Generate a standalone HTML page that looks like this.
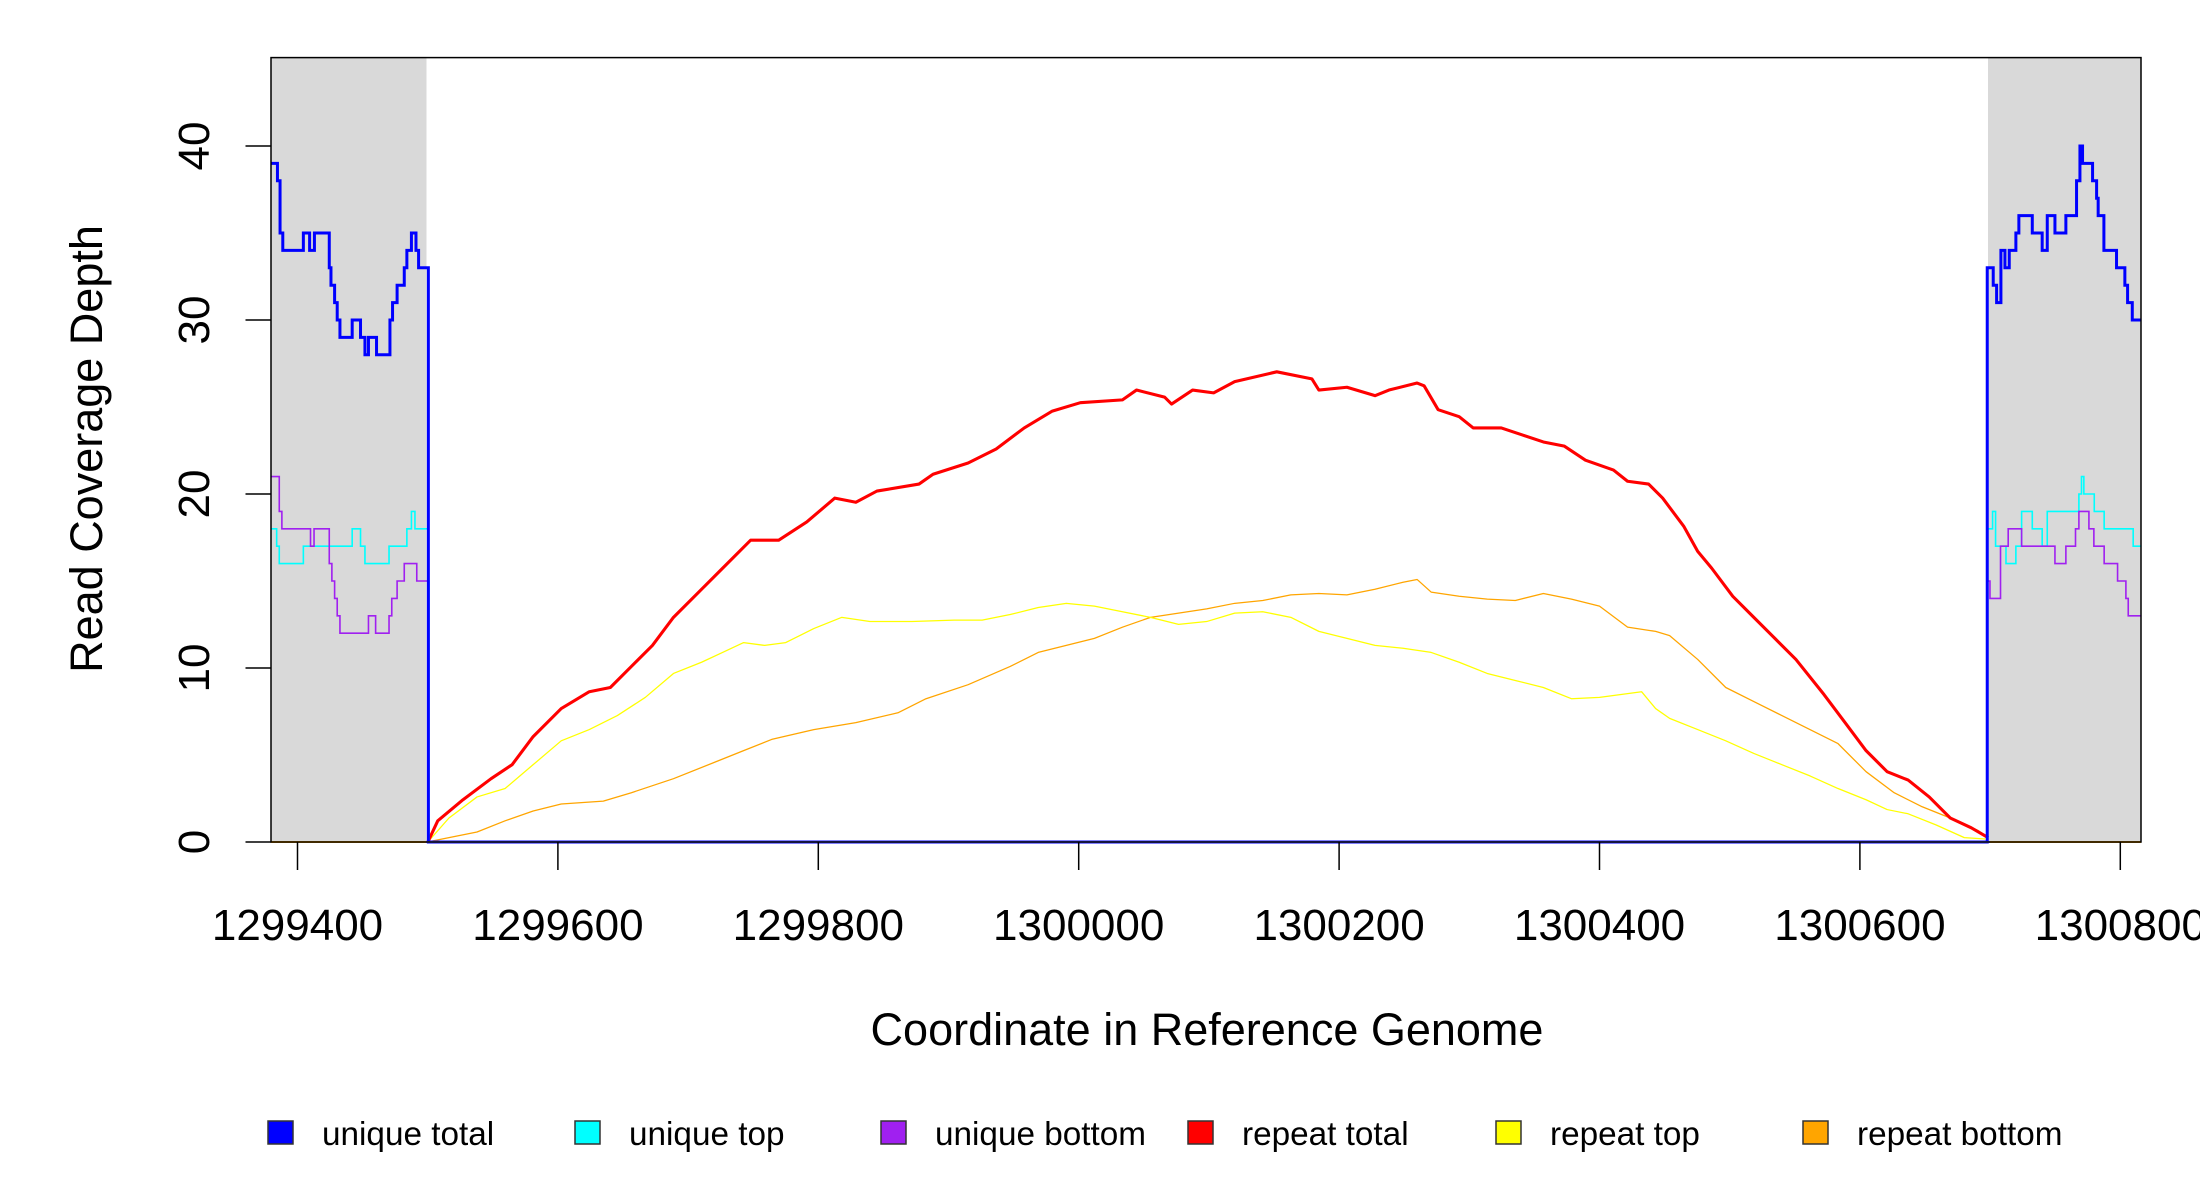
<!DOCTYPE html>
<html><head><meta charset="utf-8"><style>
html,body{margin:0;padding:0;background:#fff}
svg{display:block}
text{font-family:"Liberation Sans",sans-serif;fill:#000}
</style></head><body>
<svg width="2200" height="1200" viewBox="0 0 2200 1200" xmlns="http://www.w3.org/2000/svg">
<rect x="0" y="0" width="2200" height="1200" fill="#fff"/>
<rect x="271" y="57.6" width="155.5" height="784.4" fill="#d9d9d9"/>
<rect x="1988" y="57.6" width="153" height="784.4" fill="#d9d9d9"/>

<g transform="scale(1.40306)" fill="none" stroke-linejoin="round">
<polyline stroke="#ffa500" stroke-width="0.9" points="305,600 320,597 340,593 360,585 380,578 400,573 430,571 450,565 480,555 510,543 530,535 550,527 580,520 610,515 640,508 660,498 690,488 720,475 740,465 760,460 780,455 800,447 820,440 840,437 860,434 880,430 900,428 920,424 940,423 960,424 980,420 1000,415 1010,413 1020,422 1040,425 1060,427 1080,428 1100,423 1120,427 1140,432 1160,447 1180,450 1190,453 1210,470 1230,490 1250,500 1270,510 1290,520 1310,530 1330,550 1350,565 1370,575 1390,583 1410,592 1417,597"/>
<polyline stroke="#ffff00" stroke-width="0.9" points="305,600 320,583 340,568 360,562 380,545 400,528 420,520 440,510 460,497 480,480 500,472 515,465 530,458 545,460 560,458 580,448 600,440 620,443 650,443 680,442 700,442 720,438 740,433 760,430 780,432 800,436 820,440 840,445 860,443 880,437 900,436 920,440 940,450 960,455 980,460 1000,462 1020,465 1040,472 1060,480 1080,485 1100,490 1120,498 1140,497 1170,493 1180,505 1190,512 1210,520 1230,528 1250,537 1270,545 1290,553 1310,562 1330,570 1345,577 1360,580 1380,588 1400,597 1415,598"/>
<polyline stroke="#ff0000" stroke-width="2.2" points="305,600 312,585 330,570 350,555 365,545 380,525 400,505 420,493 435,490 450,475 465,460 480,440 500,420 515,405 535,385 555,385 575,372 595,355 610,358 625,350 655,345 665,338 690,330 710,320 730,305 750,293 770,287 800,285 810,278 830,283 835,288 850,278 865,280 880,272 910,265 935,270 940,278 960,276 980,282 990,278 1010,273 1015,275 1025,292 1040,297 1050,305 1070,305 1085,310 1100,315 1115,318 1130,328 1150,335 1160,343 1175,345 1185,355 1200,375 1210,393 1220,405 1235,425 1250,440 1265,455 1280,470 1300,495 1315,515 1330,535 1345,550 1360,556 1375,568 1390,583 1405,590 1417,597"/>
</g>

<g transform="matrix(1.302 0 0 -17.4 297.5 842)" fill="none">
<path vector-effect="non-scaling-stroke" stroke="#00ffff" stroke-width="1.6" d="M-20,18 H-16 V17 H-14 V16 H4.5 V17 H42 V18 H48.4 V17 H51.8 V16 H70.3 V17 H84 V18 H87.5 V19 H90.2 V18 H100.5 V15 H101 V0 H1297.8 V18 H1301.9 V19 H1304.2 V17 H1312.2 V16 H1319.8 V17 H1324.2 V19 H1332.4 V18 H1340 V17 H1343.9 V19 H1368.2 V20 H1370.2 V21 H1372 V20 H1380 V19 H1387.6 V18 H1409.9 V17 H1415.6"/>
<path vector-effect="non-scaling-stroke" stroke="#a020f0" stroke-width="1.6" d="M-20,21 H-14 V19 H-12 V18 H10 V17 H12.7 V18 H24.4 V16 H26.4 V15 H28.5 V14 H30.5 V13 H32.6 V12 H54.5 V13 H60 V12 H70.3 V13 H72.4 V14 H76.5 V15 H82 V16 H91.6 V15 H100.5 V0 H1297.8 V15 H1299.9 V14 H1308 V17 H1313.9 V18 H1324.2 V17 H1349.8 V16 H1358.2 V17 H1365.6 V18 H1368.2 V19 H1375.9 V18 H1379.7 V17 H1387.6 V16 H1397.9 V15 H1404.3 V14 H1406.1 V13 H1415.6"/>
<path vector-effect="non-scaling-stroke" stroke="#0000ff" stroke-width="3" d="M-20,39 H-15.4 V38 H-13.4 V35 H-11.3 V34 H4.5 V35 H9.3 V34 H13 V35 H24.4 V33 H25.7 V32 H28.5 V31 H30.5 V30 H32.6 V29 H42 V30 H48.4 V29 H51.8 V28 H54.5 V29 H60.7 V28 H71 V30 H73 V31 H76.5 V32 H82 V33 H84 V34 H87.5 V35 H91 V34 H93 V33 H100.5 V0 H1297.8 V33 H1302.4 V32 H1305 V31 H1308.3 V34 H1311.4 V33 H1314.7 V34 H1319.8 V35 H1322.1 V36 H1332.4 V35 H1340 V34 H1343.9 V36 H1349.8 V35 H1358.2 V36 H1366.4 V38 H1369 V40 H1371 V39 H1378.7 V38 H1381.8 V37 H1383 V36 H1387.4 V34 H1397.1 V33 H1403.5 V32 H1405.6 V31 H1409.2 V30 H1415.6"/>
</g>
<line x1="271" y1="842" x2="2141" y2="842" stroke="#5050ff" stroke-width="2"/>
<line x1="271" y1="842" x2="426" y2="842" stroke="#ffa500" stroke-width="2"/>
<line x1="1990" y1="842" x2="2141" y2="842" stroke="#ffa500" stroke-width="2"/>

<rect x="271" y="57.6" width="1870" height="784.4" fill="none" stroke="#000" stroke-width="1.5"/>

<g stroke="#000" stroke-width="1.5">
<line x1="245.5" y1="842" x2="271" y2="842"/>
<line x1="245.5" y1="668" x2="271" y2="668"/>
<line x1="245.5" y1="494" x2="271" y2="494"/>
<line x1="245.5" y1="320" x2="271" y2="320"/>
<line x1="245.5" y1="146" x2="271" y2="146"/>
</g>
<g font-size="44" text-anchor="middle">
<text transform="translate(209,842) rotate(-90)">0</text>
<text transform="translate(209,668) rotate(-90)">10</text>
<text transform="translate(209,494) rotate(-90)">20</text>
<text transform="translate(209,320) rotate(-90)">30</text>
<text transform="translate(209,146) rotate(-90)">40</text>
<text font-size="45" transform="translate(102,449) rotate(-90)">Read Coverage Depth</text>
</g>

<g stroke="#000" stroke-width="1.5">
<line x1="297.5" y1="842" x2="297.5" y2="870"/>
<line x1="557.9" y1="842" x2="557.9" y2="870"/>
<line x1="818.3" y1="842" x2="818.3" y2="870"/>
<line x1="1078.7" y1="842" x2="1078.7" y2="870"/>
<line x1="1339.1" y1="842" x2="1339.1" y2="870"/>
<line x1="1599.5" y1="842" x2="1599.5" y2="870"/>
<line x1="1859.9" y1="842" x2="1859.9" y2="870"/>
<line x1="2120.3" y1="842" x2="2120.3" y2="870"/>
</g>
<g font-size="44" text-anchor="middle">
<text x="297.5" y="940">1299400</text>
<text x="557.9" y="940">1299600</text>
<text x="818.3" y="940">1299800</text>
<text x="1078.7" y="940">1300000</text>
<text x="1339.1" y="940">1300200</text>
<text x="1599.5" y="940">1300400</text>
<text x="1859.9" y="940">1300600</text>
<text x="2120.3" y="940">1300800</text>
<text font-size="45" x="1207" y="1045">Coordinate in Reference Genome</text>
</g>

<g stroke="#333" stroke-width="1.5">
<rect x="268" y="1121" width="25" height="23" fill="#0000ff"/>
<rect x="575" y="1121" width="25" height="23" fill="#00ffff"/>
<rect x="881" y="1121" width="25" height="23" fill="#a020f0"/>
<rect x="1188" y="1121" width="25" height="23" fill="#ff0000"/>
<rect x="1496" y="1121" width="25" height="23" fill="#ffff00"/>
<rect x="1803" y="1121" width="25" height="23" fill="#ffa500"/>
</g>
<g font-size="33.3">
<text x="322" y="1145">unique total</text>
<text x="629" y="1145">unique top</text>
<text x="935" y="1145">unique bottom</text>
<text x="1242" y="1145">repeat total</text>
<text x="1550" y="1145">repeat top</text>
<text x="1857" y="1145">repeat bottom</text>
</g>
</svg>
</body></html>
